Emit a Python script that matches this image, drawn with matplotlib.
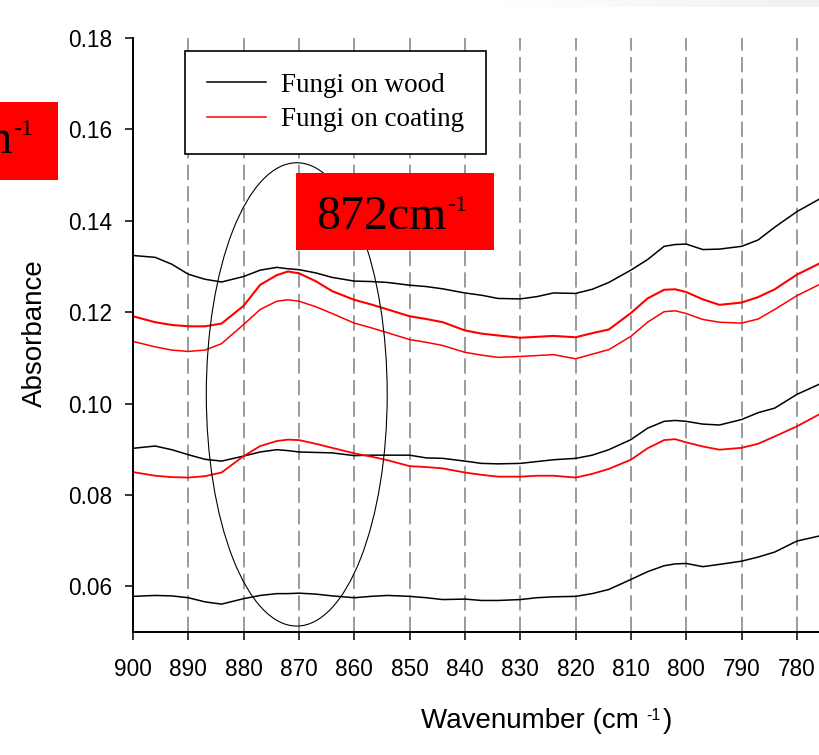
import numpy as np
import matplotlib.pyplot as plt
from matplotlib.patches import Ellipse, Rectangle
from matplotlib.text import Annotation

plt.rcParams['font.family'] = ['Liberation Sans', 'DejaVu Sans']
plt.rcParams['lines.scale_dashes'] = False

# wavenumber grid (cm-1)
wavenumber = [900, 896, 893, 890, 887, 884, 880, 877, 874, 872,
              870, 867, 864, 860, 857, 854, 850, 847, 844, 840,
              837, 834, 830, 827, 824, 820, 817, 814, 810, 807,
              804, 802, 800, 797, 794, 790, 787, 784, 780, 776]

# fungi on wood (black)
wood_top = [0.1324, 0.1320, 0.1305, 0.1283, 0.1272, 0.1266, 0.1278, 0.1292, 0.1298, 0.1295,
            0.1293, 0.1286, 0.1276, 0.1268, 0.1267, 0.1265, 0.1259, 0.1256, 0.1251, 0.1242,
            0.1237, 0.1230, 0.1229, 0.1234, 0.1242, 0.1241, 0.1250, 0.1265, 0.1292, 0.1315,
            0.1344, 0.1348, 0.1349, 0.1337, 0.1338, 0.1344, 0.1358, 0.1386, 0.1420, 0.1447]
wood_mid = [0.0902, 0.0907, 0.0899, 0.0888, 0.0878, 0.0874, 0.0885, 0.0894, 0.0899, 0.0897,
            0.0894, 0.0893, 0.0892, 0.0886, 0.0887, 0.0887, 0.0887, 0.0881, 0.0880, 0.0874,
            0.0869, 0.0868, 0.0869, 0.0873, 0.0877, 0.0880, 0.0887, 0.0899, 0.0921, 0.0946,
            0.0961, 0.0963, 0.0961, 0.0955, 0.0953, 0.0965, 0.0980, 0.0990, 0.1020, 0.1042]
wood_low = [0.0578, 0.0580, 0.0579, 0.0575, 0.0566, 0.0561, 0.0573, 0.0580, 0.0584, 0.0584,
            0.0585, 0.0583, 0.0579, 0.0575, 0.0578, 0.0580, 0.0578, 0.0575, 0.0571, 0.0572,
            0.0569, 0.0569, 0.0571, 0.0575, 0.0577, 0.0578, 0.0584, 0.0593, 0.0615, 0.0632,
            0.0645, 0.0649, 0.0650, 0.0643, 0.0648, 0.0655, 0.0664, 0.0675, 0.0699, 0.0710]

# fungi on coating (red)
coat_top = [0.1191, 0.1178, 0.1172, 0.1169, 0.1169, 0.1175, 0.1214, 0.1260, 0.1281, 0.1289,
            0.1285, 0.1268, 0.1246, 0.1227, 0.1217, 0.1206, 0.1191, 0.1185, 0.1178, 0.1160,
            0.1153, 0.1149, 0.1144, 0.1146, 0.1148, 0.1145, 0.1154, 0.1162, 0.1198, 0.1230,
            0.1249, 0.1250, 0.1244, 0.1228, 0.1216, 0.1221, 0.1233, 0.1250, 0.1282, 0.1306]
coat_second = [0.1136, 0.1124, 0.1117, 0.1114, 0.1117, 0.1131, 0.1173, 0.1206, 0.1224, 0.1227,
               0.1224, 0.1212, 0.1197, 0.1176, 0.1166, 0.1155, 0.1140, 0.1134, 0.1127, 0.1112,
               0.1106, 0.1101, 0.1103, 0.1105, 0.1107, 0.1098, 0.1108, 0.1118, 0.1147, 0.1178,
               0.1201, 0.1203, 0.1197, 0.1184, 0.1178, 0.1176, 0.1185, 0.1206, 0.1236, 0.1260]
coat_mid = [0.0850, 0.0842, 0.0839, 0.0838, 0.0841, 0.0849, 0.0885, 0.0907, 0.0918, 0.0921,
            0.0920, 0.0912, 0.0903, 0.0891, 0.0884, 0.0876, 0.0863, 0.0861, 0.0858, 0.0849,
            0.0844, 0.0840, 0.0840, 0.0842, 0.0842, 0.0838, 0.0846, 0.0857, 0.0877, 0.0902,
            0.0920, 0.0922, 0.0915, 0.0906, 0.0899, 0.0903, 0.0912, 0.0928, 0.0950, 0.0976]

x_ticks = [900, 890, 880, 870, 860, 850, 840, 830, 820, 810, 800, 790, 780]
y_ticks = [0.06, 0.08, 0.10, 0.12, 0.14, 0.16, 0.18]
y_labels = ['0.06', '0.08', '0.10', '0.12', '0.14', '0.16', '0.18']

fig = plt.figure(figsize=(8.19, 7.55), dpi=100)
ax = fig.add_axes([133 / 819, 1 - 632 / 755, 686 / 819, 594 / 755])

# faint grey band along the top right edge
band = fig.add_axes([480 / 819, 1 - 7 / 755, 339 / 819, 7 / 755])
band.imshow(np.linspace(1.0, 0.94, 200)[None, :], cmap='gray', vmin=0, vmax=1,
            aspect='auto', interpolation='bilinear')
band.axis('off')

l_wood, = ax.plot(wavenumber, wood_top, color='black', lw=1.1, label='Fungi on wood')
ax.plot(wavenumber, wood_mid, color='black', lw=1.1)
ax.plot(wavenumber, wood_low, color='black', lw=1.1)
l_coat, = ax.plot(wavenumber, coat_top, color='red', lw=1.5, label='Fungi on coating')
ax.plot(wavenumber, coat_second, color='red', lw=1.1)
ax.plot(wavenumber, coat_mid, color='red', lw=1.3)

# ellipse around the 872 band
ax.add_patch(Ellipse((870.4, 0.102), 32.7, 0.1014, fill=False, edgecolor='black', lw=0.8, zorder=3))

ax.set_xlim(900, 776)
ax.set_ylim(0.05, 0.18)
ax.set_xticks(x_ticks)
ax.set_yticks(y_ticks)
ax.set_yticklabels(y_labels)

ax.grid(axis='x', color='#808080', lw=1.1, linestyle=(0, (11, 4.5)))
ax.set_axisbelow(True)

for s in ['top', 'right']:
    ax.spines[s].set_visible(False)
for s in ['left', 'bottom']:
    ax.spines[s].set_linewidth(1.4)

ax.tick_params(direction='out', length=5.8, width=1.1, labelsize=16.3)
ax.tick_params(axis='x', pad=13)
ax.tick_params(axis='y', pad=8.9)

ax.set_ylabel('Absorbance', fontsize=20)
ax.yaxis.set_label_coords(-0.124, 0.503)


def raised(text, anchor, xy, dx, size, ha, family='Liberation Sans'):
    # small text hooked to a corner of another text, drawn at figure level
    a = Annotation(text, xy=xy, xycoords=anchor, xytext=(dx, 0), textcoords='offset points',
                   fontsize=size, family=family, ha=ha, va='top', annotation_clip=False)
    a.set_zorder(5)
    fig.add_artist(a)
    return a


# x label with a small raised "-1"
t_x = fig.text(420.7 / 819, 1 - 728 / 755, 'Wavenumber (cm', fontsize=20, ha='left', va='baseline')
t_xs = raised('-1', t_x, (1, 1), 5.5, 11.5, 'left')
t_close = Annotation(')', xy=(1, 0), xycoords=(t_xs, t_x), xytext=(1.5, 0), textcoords='offset points',
                     fontsize=20, ha='left', va='bottom', annotation_clip=False)
fig.add_artist(t_close)

leg = ax.legend(handles=[l_wood, l_coat], loc='upper left',
                bbox_to_anchor=((185 - 133) / 686, (632 - 51) / 594), borderaxespad=0,
                prop={'family': 'Liberation Serif', 'size': 19.5},
                fancybox=False, framealpha=1, edgecolor='black',
                handlelength=2.2, handletextpad=0.55, borderpad=0.8, labelspacing=0.35)
leg.get_frame().set_linewidth(1.2)
for h in leg.get_lines():
    h.set_linewidth(1.1)

# red label boxes
fig.add_artist(Rectangle((296 / 819, 1 - 250 / 755), 198 / 819, 77 / 755,
                         transform=fig.transFigure, facecolor='red', edgecolor='none', zorder=4))
t_872 = fig.text(316 / 819, 1 - 229.3 / 755, '872cm', family='Liberation Serif', fontsize=34.5,
                 ha='left', va='baseline', zorder=5)
raised('-1', t_872, (1, 1), 0.5, 17.5, 'left', family='Liberation Serif')

fig.add_artist(Rectangle((-0.05, 1 - 180 / 755), 0.05 + 57.7 / 819, 78 / 755,
                         transform=fig.transFigure, facecolor='red', edgecolor='none', zorder=4))
t_left = fig.text(33.3 / 819, 1 - 119 / 755, '-1', family='Liberation Serif', fontsize=17.5,
                  ha='right', va='top', zorder=5)
raised('cm', t_left, (0, 1), -0.5, 34.5, 'right', family='Liberation Serif')

fig.savefig('out.png', dpi=100)
